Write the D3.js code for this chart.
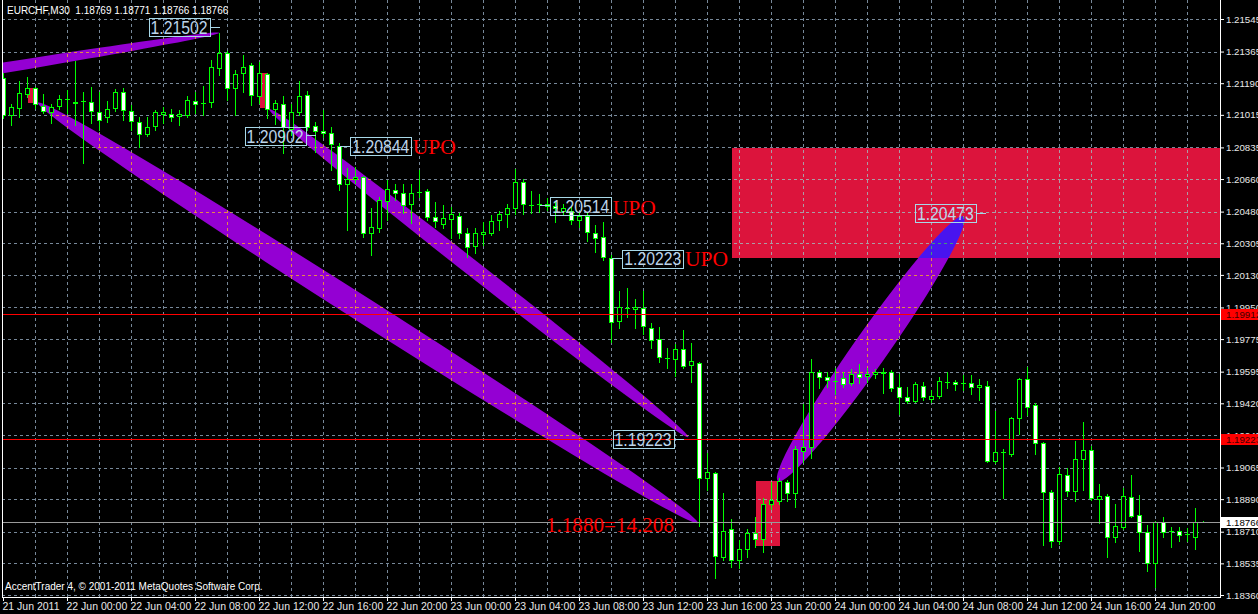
<!DOCTYPE html>
<html><head><meta charset="utf-8">
<script src="https://cdn.jsdelivr.net/npm/d3@7"></script>
<style>html,body{margin:0;padding:0;background:#000;overflow:hidden}</style>
</head><body>
<svg id="c" width="1258" height="614"></svg>
<script>
// ---------------- data ----------------
const chartTitle = "EURCHF,M30  1.18769 1.18771 1.18766 1.18766";
const copyrightText = "AccentTrader 4, \u00A9 2001-2011 MetaQuotes Software Corp.";

const timeLabels = ["21 Jun 2011","22 Jun 00:00","22 Jun 04:00","22 Jun 08:00","22 Jun 12:00","22 Jun 16:00","22 Jun 20:00","23 Jun 00:00","23 Jun 04:00","23 Jun 08:00","23 Jun 12:00","23 Jun 16:00","23 Jun 20:00","24 Jun 00:00","24 Jun 04:00","24 Jun 08:00","24 Jun 12:00","24 Jun 16:00","24 Jun 20:00"];
const timeLabelIdx = [0,8,16,24,32,40,48,56,64,72,80,88,96,104,112,120,128,136,144];

const priceTicks = [1.21545,1.21365,1.21190,1.21015,1.20835,1.20660,1.20480,1.20305,1.20130,1.19950,1.19775,1.19595,1.19420,1.19245,1.19065,1.18890,1.18710,1.18535,1.18360];

// M30 candles: [open, high, low, close]
const ohlc = [
[1.21222,1.21249,1.21000,1.21017],[1.21017,1.21078,1.20962,1.21063],[1.21054,1.21205,1.21008,1.21137],[1.21132,1.21225,1.21118,1.21165],
[1.21165,1.21173,1.21054,1.21076],[1.21068,1.21132,1.21026,1.21039],[1.21035,1.21078,1.20971,1.21063],[1.21068,1.21128,1.21052,1.21104],
[1.21104,1.21155,1.21030,1.21104],[1.21090,1.21317,1.20962,1.21082],[1.21093,1.21146,1.20750,1.21093],[1.21090,1.21173,1.20971,1.21039],
[1.21035,1.21143,1.20934,1.20989],[1.21004,1.21094,1.20980,1.21052],[1.21054,1.21159,1.21041,1.21143],[1.21143,1.21165,1.20989,1.21045],
[1.21041,1.21072,1.20934,1.20985],[1.20980,1.21004,1.20838,1.20912],[1.20912,1.21004,1.20901,1.20952],[1.20956,1.21045,1.20934,1.21032],
[1.21024,1.21060,1.20971,1.21035],[1.21024,1.21049,1.20984,1.21006],[1.21010,1.21045,1.20960,1.21021],[1.21019,1.21122,1.21008,1.21098],
[1.21096,1.21143,1.21030,1.21078],[1.21085,1.21177,1.21017,1.21085],[1.21087,1.21321,1.21063,1.21281],[1.21275,1.21472,1.21238,1.21358],
[1.21358,1.21373,1.21100,1.21168],[1.21168,1.21266,1.21017,1.21242],[1.21251,1.21349,1.21146,1.21284],[1.21292,1.21303,1.21072,1.21126],
[1.21124,1.21308,1.21082,1.21248],[1.21242,1.21248,1.20999,1.21049],[1.21049,1.21100,1.20967,1.21082],[1.21076,1.21122,1.20805,1.20952],
[1.20940,1.21078,1.20906,1.21032],[1.21035,1.21205,1.21017,1.21122],[1.21126,1.21150,1.20934,1.20952],[1.20956,1.20980,1.20814,1.20930],
[1.20929,1.21045,1.20897,1.20916],[1.20919,1.20952,1.20713,1.20855],[1.20847,1.20861,1.20602,1.20634],[1.20634,1.20722,1.20381,1.20663],
[1.20661,1.20731,1.20639,1.20672],[1.20672,1.20681,1.20344,1.20363],[1.20363,1.20501,1.20243,1.20396],[1.20394,1.20565,1.20372,1.20547],
[1.20543,1.20658,1.20436,1.20606],[1.20600,1.20635,1.20547,1.20584],[1.20584,1.20635,1.20473,1.20518],[1.20523,1.20635,1.20421,1.20584],
[1.20593,1.20713,1.20565,1.20593],[1.20597,1.20606,1.20436,1.20451],[1.20451,1.20538,1.20399,1.20431],[1.20413,1.20519,1.20390,1.20446],
[1.20442,1.20510,1.20335,1.20468],[1.20458,1.20473,1.20335,1.20363],[1.20367,1.20394,1.20233,1.20287],[1.20293,1.20390,1.20252,1.20366],
[1.20361,1.20424,1.20298,1.20372],[1.20366,1.20464,1.20353,1.20431],[1.20435,1.20488,1.20381,1.20468],[1.20468,1.20523,1.20399,1.20501],
[1.20501,1.20718,1.20470,1.20648],[1.20648,1.20663,1.20468,1.20525],[1.20521,1.20598,1.20473,1.20521],[1.20527,1.20580,1.20482,1.20527],
[1.20527,1.20556,1.20492,1.20514],[1.20514,1.20538,1.20424,1.20501],[1.20488,1.20525,1.20464,1.20501],[1.20488,1.20514,1.20413,1.20436],
[1.20436,1.20482,1.20399,1.20458],[1.20460,1.20482,1.20320,1.20368],[1.20363,1.20409,1.20258,1.20335],[1.20341,1.20427,1.20215,1.20230],
[1.20228,1.20243,1.19763,1.19875],[1.19879,1.20044,1.19841,1.19957],[1.19951,1.20059,1.19902,1.19951],[1.19943,1.19998,1.19838,1.19954],
[1.19948,1.20044,1.19804,1.19849],[1.19841,1.19868,1.19727,1.19773],[1.19777,1.19843,1.19653,1.19677],[1.19675,1.19727,1.19620,1.19675],
[1.19666,1.19749,1.19574,1.19721],[1.19721,1.19828,1.19620,1.19631],[1.19635,1.19758,1.19542,1.19657],[1.19644,1.19649,1.18746,1.19008],
[1.19008,1.19150,1.18943,1.19041],[1.19039,1.19044,1.18455,1.18580],[1.18574,1.18928,1.18556,1.18718],[1.18726,1.18781,1.18519,1.18556],
[1.18556,1.18667,1.18510,1.18615],[1.18615,1.18726,1.18571,1.18704],[1.18704,1.18792,1.18630,1.18671],[1.18671,1.18897,1.18602,1.18866],
[1.18864,1.18989,1.18838,1.18888],[1.18884,1.19008,1.18866,1.18993],[1.18986,1.18999,1.18883,1.18925],[1.18925,1.19188,1.18848,1.19168],
[1.19161,1.19419,1.19098,1.19179],[1.19179,1.19668,1.19120,1.19594],[1.19594,1.19607,1.19509,1.19567],[1.19567,1.19594,1.19515,1.19550],
[1.19548,1.19616,1.19474,1.19548],[1.19561,1.19598,1.19515,1.19528],[1.19533,1.19612,1.19524,1.19585],[1.19585,1.19640,1.19537,1.19567],
[1.19574,1.19616,1.19542,1.19585],[1.19583,1.19612,1.19561,1.19598],[1.19598,1.19616,1.19478,1.19589],[1.19594,1.19607,1.19492,1.19509],
[1.19511,1.19583,1.19364,1.19456],[1.19456,1.19511,1.19423,1.19437],[1.19437,1.19541,1.19430,1.19528],[1.19520,1.19539,1.19441,1.19456],
[1.19447,1.19496,1.19428,1.19465],[1.19465,1.19567,1.19454,1.19546],[1.19542,1.19598,1.19509,1.19542],[1.19539,1.19552,1.19496,1.19528],
[1.19533,1.19579,1.19496,1.19533],[1.19533,1.19579,1.19472,1.19511],[1.19511,1.19557,1.19441,1.19524],[1.19520,1.19548,1.19098,1.19102],
[1.19102,1.19382,1.19091,1.19152],[1.19152,1.19168,1.18901,1.19152],[1.19142,1.19347,1.19133,1.19340],[1.19340,1.19563,1.19253,1.19555],
[1.19555,1.19622,1.19358,1.19404],[1.19412,1.19423,1.19142,1.19201],[1.19201,1.19209,1.18639,1.18934],[1.18934,1.18943,1.18626,1.18663],
[1.18663,1.19072,1.18643,1.19030],[1.19025,1.19063,1.18912,1.18939],[1.18939,1.19214,1.18883,1.19115],[1.19116,1.19318,1.18943,1.19163],
[1.19163,1.19187,1.18888,1.18897],[1.18892,1.18977,1.18762,1.18910],[1.18910,1.18921,1.18574,1.18685],[1.18685,1.18866,1.18657,1.18744],
[1.18740,1.18953,1.18728,1.18910],[1.18903,1.19026,1.18796,1.18801],[1.18803,1.18916,1.18608,1.18713],[1.18711,1.18750,1.18497,1.18541],
[1.18541,1.18772,1.18408,1.18765],[1.18765,1.18796,1.18682,1.18713],[1.18718,1.18737,1.18630,1.18718],[1.18715,1.18737,1.18663,1.18693],
[1.18698,1.18732,1.18663,1.18698],[1.18685,1.18842,1.18617,1.18768],[1.18769,1.18771,1.18766,1.18766]
];

// horizontal lines (price)
const hLinePrices = [1.19912, 1.19223, 1.18766];
// rectangles: [startIdx, endIdx, topPrice, bottomPrice]
const rectObjs = [[3,4,1.21165,1.21082],[32,33,1.21248,1.21054],[94,97,1.18993,1.18635],[91,160,1.20836,1.20228]];
// ellipses: [idx1, price1, idx2, price2]
const ellipseObjs = [[-47,1.20940,27,1.21472],[4.3,1.21085,86.8,1.18761],[33.2,1.21050,85.6,1.19236],[96.8,1.18993,120.0,1.20455]];
// price labels
const labelPrices = [1.21502, 1.20902, 1.20844, 1.20514, 1.20223, 1.19223, 1.20473];
const labelAnchorIdx = [27, 39, 42.1, 67.1, 76.1, 85.0, 122.8];
// text notes
const noteTexts = ["UPO","UPO","UPO","1.1880=14.208"];
const noteIdx = [51.15, 76.15, 85.2, 67.81];
const notePrices = [1.20800, 1.20464, 1.20184, 1.18711];

// ---------------- styles ----------------
const labelSides = ["left","left","right","right","right","left","left"];
const ellipseWidths = [11, 25, 16, 34];
const hLineColors = ["#ff0000","#ff0000","#9a9a9a"];
const hLineBoxFill = ["#ff0000","#ff0000","#ffffff"];
const hLineBoxText = ["#3c0000","#3c0000","#000000"];
const noteWidths = [43, 43, 43, 128];
const GRID = "#778899", GRID_ON_RECT = "#ab9ca5", GRID_ON_BAND = "#e3884a", GRID_ON_BOTH = "#3f9c76";
const PURPLE = "#9400d3", CRIMSON = "#dc143c", BLUE_X = "#4814ef";
const SANS = "'Liberation Sans', Arial, sans-serif", SERIF = "'Liberation Serif', 'Times New Roman', serif";
const AXIS_FS = 10, YAXIS_FS = 9.7, XAXIS_FS = 10.5;

// ---------------- drawing ----------------
const W = 1258, H = 614, PL = 2, PR = 1220, PB = 597;
const svg = d3.select("#c");
const x = d3.scaleLinear().domain([0,150]).range([3.5,1203.5]);
const y = d3.scaleLinear().domain([1.18360,1.21545]).range([595.5,19.5]);
const snap = v => Math.round(v - 0.5) + 0.5;

svg.append("rect").attr("width",W).attr("height",H).attr("fill","#000");

const defs = svg.append("defs");
defs.append("clipPath").attr("id","plotClip").append("rect").attr("x",PL+1).attr("y",0).attr("width",PR-PL-1).attr("height",PB);

function ellGeom(e, w) {
  const x1 = x(e[0]), y1 = y(e[1]), x2 = x(e[2]), y2 = y(e[3]);
  return {cx:(x1+x2)/2, cy:(y1+y2)/2, rx:Math.hypot(x2-x1,y2-y1)/2, ry:w/2, a:Math.atan2(y2-y1,x2-x1)*180/Math.PI};
}
function addEllipse(sel, e, w) {
  const g = ellGeom(e, w);
  return sel.append("ellipse").attr("cx",g.cx).attr("cy",g.cy).attr("rx",g.rx).attr("ry",g.ry)
    .attr("transform",`rotate(${g.a} ${g.cx} ${g.cy})`);
}
function addRect(sel, r) {
  const x0 = x(r[0]), x1 = x(r[1]), y0 = y(r[2]), y1 = y(r[3]);
  return sel.append("rect").attr("x",Math.round(x0)).attr("y",Math.round(y0))
    .attr("width",Math.round(x1)-Math.round(x0)).attr("height",Math.round(y1)-Math.round(y0));
}

// clip paths for XOR emulation
const cpRects = defs.append("clipPath").attr("id","rectsClip");
rectObjs.forEach(r => addRect(cpRects, r));
const cpBands = defs.append("clipPath").attr("id","bandsClip");
ellipseObjs.forEach((e,i) => addEllipse(cpBands, e, ellipseWidths[i]));
const cpBandD = defs.append("clipPath").attr("id","bandDClip");
addEllipse(cpBandD, ellipseObjs[3], ellipseWidths[3]);
const cpBig = defs.append("clipPath").attr("id","bigRectClip");
addRect(cpBig, rectObjs[3]);

const plot = svg.append("g").attr("clip-path","url(#plotClip)");

// rectangles
const rg = plot.append("g").attr("shape-rendering","crispEdges");
rectObjs.forEach(r => addRect(rg, r).attr("fill", CRIMSON));
// ellipses
ellipseObjs.forEach((e,i) => addEllipse(plot, e, ellipseWidths[i]).attr("fill", PURPLE));
plot.append("g").attr("clip-path","url(#bigRectClip)").call(g => addEllipse(g, ellipseObjs[3], ellipseWidths[3]).attr("fill", BLUE_X));

// grid
const gridIdx = d3.range(4, 150, 4);
function drawGrid(sel, color) {
  const g = sel.append("g").attr("stroke",color).attr("stroke-dasharray","3,3").attr("shape-rendering","crispEdges");
  g.selectAll("line.h").data(priceTicks).join("line").attr("class","h")
    .attr("x1",PL).attr("x2",PR).attr("y1",d=>snap(y(d))).attr("y2",d=>snap(y(d)));
  g.selectAll("line.v").data(gridIdx).join("line").attr("class","v")
    .attr("x1",d=>x(d)).attr("x2",d=>x(d)).attr("y1",0).attr("y2",PB);
}
drawGrid(plot, GRID);
drawGrid(plot.append("g").attr("clip-path","url(#rectsClip)"), GRID_ON_RECT);
drawGrid(plot.append("g").attr("clip-path","url(#bandsClip)"), GRID_ON_BAND);
drawGrid(plot.append("g").attr("clip-path","url(#bigRectClip)").append("g").attr("clip-path","url(#bandDClip)"), GRID_ON_BOTH);

// candles
const cg = plot.append("g").attr("shape-rendering","crispEdges");
const candle = cg.selectAll("g.cd").data(ohlc).join("g").attr("class","cd");
candle.append("line")
  .attr("x1",(d,i)=>x(i)).attr("x2",(d,i)=>x(i))
  .attr("y1",d=>Math.round(y(d[1]))).attr("y2",d=>Math.round(y(d[2]))+1)
  .attr("stroke","#00ff00");
candle.each(function(d,i){
  const s = d3.select(this), cx = x(i);
  const top = Math.round(Math.min(y(d[0]),y(d[3]))), bot = Math.round(Math.max(y(d[0]),y(d[3])));
  if (bot - top < 1) {
    s.append("line").attr("x1",cx-2.5).attr("x2",cx+2.5).attr("y1",top+0.5).attr("y2",top+0.5).attr("stroke","#00ff00");
  } else {
    s.append("rect").attr("x",cx-2).attr("y",top+0.5).attr("width",4).attr("height",bot-top)
      .attr("fill", d[3] < d[0] ? "#ffffff" : "#000000").attr("stroke","#00ff00");
  }
});

// horizontal lines
plot.selectAll("line.hl").data(hLinePrices).join("line").attr("class","hl")
  .attr("x1",PL).attr("x2",PR).attr("y1",d=>snap(y(d))).attr("y2",d=>snap(y(d)))
  .attr("stroke",(d,i)=>hLineColors[i]).attr("shape-rendering","crispEdges");

// price labels (boxes)
const BW = 61, BH = 18, GAP = 10;
const lg = svg.append("g");
labelPrices.forEach((p,i) => {
  const ax = x(labelAnchorIdx[i]), py = y(p);
  const left = labelSides[i] === "left";
  const bx0 = left ? ax - GAP - BW : ax + GAP;
  const ly = snap(py);
  lg.append("line").attr("x1", left ? bx0 + BW : ax).attr("x2", left ? ax : bx0)
    .attr("y1", ly).attr("y2", ly).attr("stroke","#a8d8e8").attr("shape-rendering","crispEdges");
  lg.append("rect").attr("x",Math.round(bx0)+0.5).attr("y",Math.round(py-BH/2)+0.5).attr("width",BW).attr("height",BH)
    .attr("fill","none").attr("stroke","#a8d8e8").attr("shape-rendering","crispEdges");
  lg.append("text").attr("x",bx0+BW/2).attr("y",py+6.8).attr("text-anchor","middle")
    .attr("font-family",SANS).attr("font-size","17.5px").attr("fill","#bcd4ea")
    .attr("textLength",57).attr("lengthAdjust","spacingAndGlyphs").text(p.toFixed(5));
});

// text notes
noteTexts.forEach((t,i) => {
  lg.append("text").attr("x",x(noteIdx[i])).attr("y",y(notePrices[i]))
    .attr("font-family",SERIF).attr("font-size","21.5px").attr("fill","#ff0000")
    .attr("textLength",noteWidths[i]).attr("lengthAdjust","spacingAndGlyphs").text(t);
});

// frame
const fr = svg.append("g").attr("stroke","#ffffff").attr("shape-rendering","crispEdges");
fr.append("line").attr("x1",PL+0.5).attr("x2",PL+0.5).attr("y1",0).attr("y2",PB+0.5);
fr.append("line").attr("x1",PR+0.5).attr("x2",PR+0.5).attr("y1",0).attr("y2",PB+0.5);
fr.append("line").attr("x1",PL).attr("x2",PR+1).attr("y1",PB+0.5).attr("y2",PB+0.5);

// axes
const yAxis = d3.axisRight(y).tickValues(priceTicks).tickFormat(d3.format(".5f")).tickSize(4).tickPadding(2).offset(0);
const gy = svg.append("g").attr("transform",`translate(${PR},0)`).call(yAxis)
  .attr("font-family",SANS).attr("font-size",YAXIS_FS).attr("color","#e8e8e8");
gy.select(".domain").remove();
gy.selectAll(".tick line").attr("stroke","#ffffff");

const xAxis = d3.axisBottom(x).tickValues(timeLabelIdx).tickFormat((d,i)=>timeLabels[i]).tickSize(4).tickPadding(2).offset(0);
const gx = svg.append("g").attr("transform",`translate(0,${PB})`).call(xAxis)
  .attr("font-family",SANS).attr("font-size",XAXIS_FS).attr("color","#e8e8e8");
gx.select(".domain").remove();
gx.selectAll(".tick line").attr("stroke","#ffffff");
gx.selectAll(".tick text").attr("text-anchor","start").attr("x",-1);

// right-side price tags for horizontal lines
hLinePrices.forEach((p,i) => {
  const py = y(p);
  svg.append("rect").attr("x",PR+1).attr("y",Math.round(py-5.5)).attr("width",W-PR-1).attr("height",11)
    .attr("fill",hLineBoxFill[i]);
  svg.append("text").attr("x",PR+6).attr("y",py+3.5).attr("font-family",SANS).attr("font-size",YAXIS_FS+"px")
    .attr("fill",hLineBoxText[i]).text(p.toFixed(5));
});

// title & copyright
svg.append("text").attr("x",7).attr("y",14).attr("font-family",SANS).attr("font-size",AXIS_FS+"px")
  .attr("fill","#ffffff").style("white-space","pre").text(chartTitle);
svg.append("text").attr("x",5).attr("y",590).attr("font-family",SANS).attr("font-size",AXIS_FS+"px")
  .attr("fill","#ffffff").text(copyrightText);
</script>
</body></html>
